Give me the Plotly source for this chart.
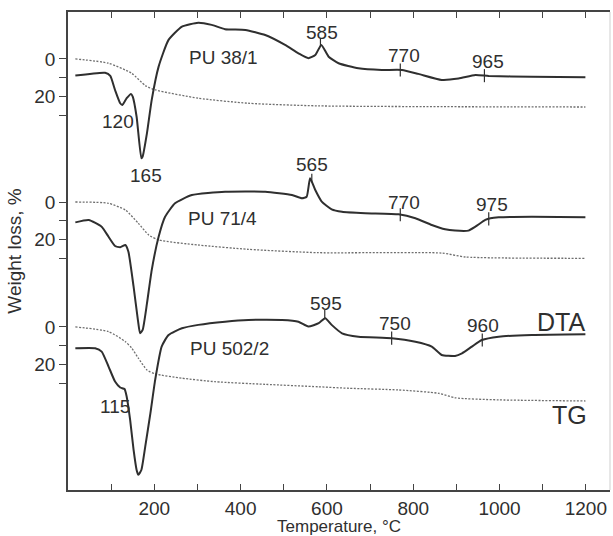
import numpy as np
import plotly.graph_objects as go

# ---------------- data (temperature in °C) ----------------
# Sample PU 38/1
dta1_t = [17, 86, 98, 109, 121, 126, 136, 146, 150, 159, 170, 173, 183, 194, 210, 233, 264, 302, 333,
          364, 411, 457, 503, 534, 557, 573, 587, 604, 627, 673, 727, 774, 812, 866, 905, 944, 975, 1074, 1199]
dta1_v = [8.9, 7.4, 9.1, 16.6, 23.7, 24.6, 21.0, 18.7, 20.2, 30.9, 53.1, 52.2, 39.7, 21.9, 4.1, -10.2, -17.3, -19.4, -18.2,
          -15.9, -15.5, -12.8, -7.5, -3.0, -0.4, -2.1, -7.5, -1.2, 2.3, 5.0, 5.9, 5.9, 8.0, 11.2, 10.5, 8.6, 9.1, 9.5, 9.8]
tg1_t = [17, 94, 147, 180, 203, 302, 418, 580, 1199]
tg1_v = [0.0, 2.3, 7.6, 14.4, 16.6, 21.0, 23.7, 25.1, 25.7]

# Sample PU 71/4
dta2_t = [17, 48, 78, 94, 109, 121, 133, 140, 152, 162, 167, 173, 183, 194, 210, 225, 248, 287, 364, 457, 519,
          542, 553, 561, 573, 588, 611, 635, 689, 766, 805, 843, 874, 897, 928, 944, 967, 979, 998, 1075, 1199]
dta2_v = [10.9, 9.6, 13.2, 18.6, 23.5, 24.2, 23.0, 26.6, 45.3, 63.1, 70.2, 68.4, 54.2, 36.4, 18.6, 7.9, 0.7, -3.7, -5.5, -5.5, -3.7,
          -2.0, -2.8, -12.7, -6.4, -0.2, 3.9, 5.2, 6.0, 6.6, 8.7, 12.3, 14.6, 15.3, 15.3, 13.2, 9.6, 8.7, 8.2, 7.9, 8.2]
tg2_t = [17, 94, 133, 163, 187, 210, 302, 418, 580, 866, 921, 1199]
tg2_v = [0.0, 0.7, 4.3, 11.4, 17.6, 20.3, 23.0, 25.3, 27.1, 27.3, 29.4, 30.1]

# Sample PU 502/2
dta3_t = [17, 63, 78, 94, 109, 121, 131, 136, 144, 152, 159, 163, 170, 179, 191, 202, 217, 233, 264, 302, 364,
          418, 496, 534, 557, 581, 596, 611, 635, 673, 750, 805, 843, 866, 897, 913, 936, 959, 998, 1075, 1199]
dta3_v = [11.4, 11.4, 13.2, 21.2, 29.2, 32.4, 33.2, 37.3, 49.7, 65.8, 76.5, 79.1, 76.5, 64.0, 46.1, 28.3, 10.5, 4.3, 0.7, -1.1, -2.8,
          -3.7, -3.7, -2.8, -0.2, -2.0, -4.7, -1.1, 3.4, 5.2, 6.0, 7.9, 10.5, 15.0, 15.5, 14.1, 10.5, 7.0, 5.2, 4.3, 3.9]
tg3_t = [17, 94, 133, 148, 163, 183, 202, 264, 341, 457, 580, 650, 766, 859, 897, 998, 1199]
tg3_v = [0.0, 2.5, 7.9, 11.4, 16.7, 23.0, 25.1, 27.4, 29.3, 30.7, 32.0, 32.8, 33.7, 35.5, 37.9, 39.0, 39.6]

sample_names = ["PU 38/1", "PU 71/4", "PU 502/2"]
# marked temperatures on DTA curves (peaks get a tick above, others a cross tick)
peak_marks = [585, 565, 595]
cross_marks = [[770, 965], [770, 975], [750, 960]]

x_tickvals = list(range(100, 1201, 100))
x_ticktext = ["" if v % 200 else str(v) for v in x_tickvals]

# ---------------- layout constants ----------------
offsets = [25.1, 101.6, 168.4]      # vertical position of each sample's zero line (axis units)
y_span = 255.6
ink = "#2f2f2f"
dot_col = "#6e6e6e"
FONT = "Liberation Sans"

fig = go.Figure()

panels = [(dta1_t, dta1_v, tg1_t, tg1_v), (dta2_t, dta2_v, tg2_t, tg2_v), (dta3_t, dta3_v, tg3_t, tg3_v)]
for i, (dt, dv, tt, tv) in enumerate(panels):
    o = offsets[i]
    fig.add_trace(go.Scatter(x=tt, y=[o + v for v in tv], mode="lines",
                             line=dict(color=dot_col, width=1.3, dash="2px,1.5px", shape="spline", smoothing=0.6),
                             hoverinfo="skip", showlegend=False))
    fig.add_trace(go.Scatter(x=dt, y=[o + v for v in dv], mode="lines",
                             line=dict(color=ink, width=2, shape="spline", smoothing=0.5),
                             hoverinfo="skip", showlegend=False))
    # small ticks marking characteristic temperatures
    for T in cross_marks[i]:
        yv = o + float(np.interp(T, dt, dv))
        fig.add_shape(type="line", x0=T, x1=T, y0=yv - 3.5, y1=yv + 3.5,
                      line=dict(color=ink, width=1.2), layer="above")
    T = peak_marks[i]
    yv = o + float(np.interp(T, dt, dv))
    fig.add_shape(type="line", x0=T, x1=T, y0=yv - 4.5, y1=yv,
                  line=dict(color=ink, width=1.2), layer="above")

# tick values on the weight-loss axis, repeated for each sample
y_tickvals, y_ticktext = [], []
for o in offsets:
    y_tickvals += [o, o + 10, o + 20, o + 30]
    y_ticktext += ["0", "", "20", ""]

labels = [
    ("120", 117, 58.8, 19), ("165", 180, 87.2, 19), ("585", 588, 10.7, 19), ("770", 778, 23.0, 19),
    ("965", 973, 26.2, 19), (sample_names[0], 360, 24.1, 19),
    ("565", 565, 81.3, 19), ("770", 778, 101.6, 19), ("975", 982, 102.7, 19), (sample_names[1], 358, 110.2, 19),
    ("595", 599, 156.1, 19), ("750", 757, 166.3, 19), ("960", 961, 167.4, 19), ("DTA", 1142, 165.8, 25),
    (sample_names[2], 374, 179.7, 19), ("115", 108, 211.2, 19), ("TG", 1161, 215.5, 25),
]
for txt, x, y, sz in labels:
    fig.add_annotation(x=x, y=y, text=txt, showarrow=False, xanchor="center", yanchor="middle",
                       font=dict(family=FONT, size=sz, color=ink))

# faint right-hand frame line
fig.add_shape(type="line", xref="paper", yref="paper", x0=1, x1=1, y0=0, y1=1,
              line=dict(color="#cfcfcf", width=1))

fig.update_layout(
    width=613, height=536,
    margin=dict(l=68, r=3, t=12, b=46, autoexpand=False),
    paper_bgcolor="white", plot_bgcolor="white",
    font=dict(family=FONT, color=ink),
    xaxis=dict(range=[0, 1256], tickvals=x_tickvals, ticktext=x_ticktext, automargin=False,
               ticks="inside", ticklen=6, tickwidth=1.2, tickcolor="#444",
               showline=True, linecolor="#444", linewidth=1.5, mirror="ticks",
               showgrid=False, zeroline=False,
               tickfont=dict(family=FONT, size=19, color=ink),
               title=dict(text="Temperature, °C", font=dict(family=FONT, size=17, color=ink), standoff=4)),
    yaxis=dict(range=[y_span, 0], tickvals=y_tickvals, ticktext=y_ticktext, automargin=False,
               ticks="outside", ticklen=7, tickwidth=1.2, tickcolor="#444",
               showline=True, linecolor="#444", linewidth=1.5,
               showgrid=False, zeroline=False,
               tickfont=dict(family=FONT, size=19, color=ink),
               title=dict(text="Weight loss, %", font=dict(family=FONT, size=19, color=ink), standoff=8)),
)

fig.write_html("out.html", config={"displayModeBar": False},
               post_script="document.body.style.margin='0';document.body.style.overflow='hidden';")
